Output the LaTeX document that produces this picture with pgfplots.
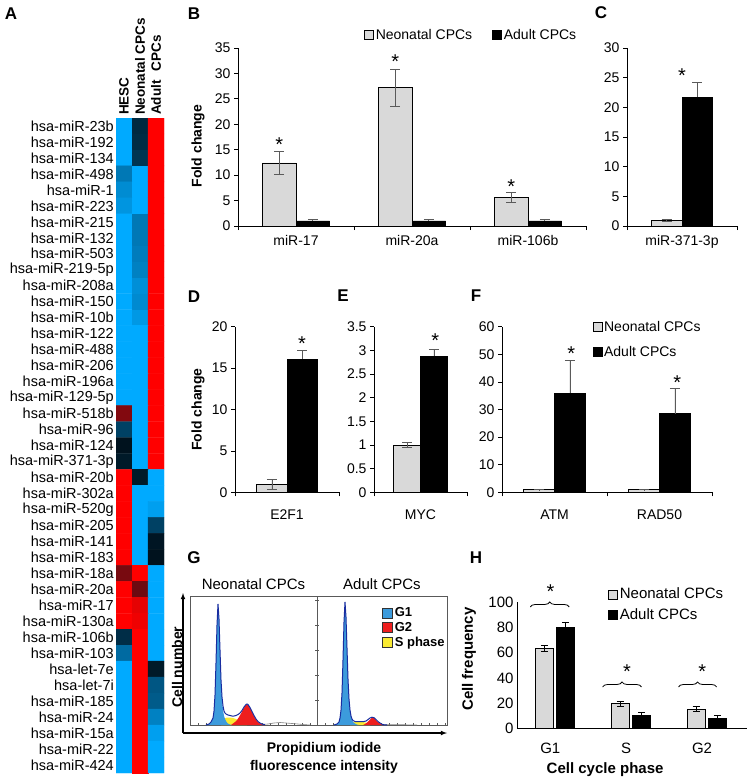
\documentclass[border=0pt]{standalone}
\usepackage{pgfplots}
\pgfplotsset{compat=1.18}
\usepackage{fontspec}
\setmainfont{Liberation Sans}
\usetikzlibrary{decorations.pathreplacing}

\definecolor{neo}{RGB}{217,217,217}
\definecolor{errc}{RGB}{90,90,90}
\definecolor{gblue}{RGB}{60,155,220}
\definecolor{gdark}{RGB}{25,45,160}
\definecolor{gred}{RGB}{238,30,30}
\definecolor{gyel}{RGB}{250,235,50}

\newcommand{\fA}{\fontsize{14}{16}\selectfont}
\newcommand{\fH}{\fontsize{15}{17}\selectfont}
\newcommand{\fP}{\fontsize{17}{19}\selectfont\bfseries}
\newcommand{\fS}{\fontsize{20}{20}\selectfont}

\tikzset{astar/.style={anchor=base, yshift=-11.8pt, font=\fS}}

\pgfplotsset{
  every axis/.append style={font=\fA, /pgf/number format/assume math mode=true},
  barax/.style={scale only axis, anchor=south west, ybar, ymin=0,
    axis x line*=bottom, axis y line*=left, axis line style={line width=0.8pt},
    tick align=outside, major tick length=4pt, tick style={line width=0.8pt, black},
    xticklabels={}, extra x tick style={major tick length=0pt, xticklabel style={yshift=-6pt}},
    clip=false,
    legend image code/.code={\draw[#1, line width=0.6pt] (0pt,-4.5pt) rectangle (9pt,4.5pt);}},
  neobar/.style={fill=neo, draw=black, line width=0.8pt,
    error bars/y dir=both, error bars/y explicit,
    error bars/error bar style={line width=0.8pt, errc},
    error bars/error mark options={rotate=90, mark size=5pt, line width=0.8pt, errc}},
  adubar/.style={fill=black, draw=black, line width=0.8pt,
    error bars/y dir=plus, error bars/y explicit,
    error bars/error bar style={line width=0.8pt, errc},
    error bars/error mark options={rotate=90, mark size=5pt, line width=0.8pt, errc}},
}

\begin{document}
\begin{tikzpicture}
\path[use as bounding box] (0,0) rectangle (749pt,-783pt);

% ---------------- Panel A: heatmap ----------------
\begin{axis}[scale only axis, anchor=north west, at={(116pt,-118pt)},
  width=48pt, height=655pt, xmin=-0.5, xmax=2.5, ymin=-0.5, ymax=40.5,
  y dir=reverse, axis line style={draw=none}, major tick length=0pt,
  xtick={0,1,2}, xticklabels={HESC,Neonatal CPCs,Adult\hspace{9pt}CPCs},
  xticklabel pos=right,
  xticklabel style={rotate=90, anchor=west, inner xsep=3pt, inner ysep=0pt,
    font=\fontsize{13.5}{14}\selectfont\bfseries},
  ytick={0,...,40},
  yticklabels={hsa-miR-23b,hsa-miR-192,hsa-miR-134,hsa-miR-498,hsa-miR-1,hsa-miR-223,hsa-miR-215,hsa-miR-132,hsa-miR-503,hsa-miR-219-5p,hsa-miR-208a,hsa-miR-150,hsa-miR-10b,hsa-miR-122,hsa-miR-488,hsa-miR-206,hsa-miR-196a,hsa-miR-129-5p,hsa-miR-518b,hsa-miR-96,hsa-miR-124,hsa-miR-371-3p,hsa-miR-20b,hsa-miR-302a,hsa-miR-520g,hsa-miR-205,hsa-miR-141,hsa-miR-183,hsa-miR-18a,hsa-miR-20a,hsa-miR-17,hsa-miR-130a,hsa-miR-106b,hsa-miR-103,hsa-let-7e,hsa-let-7i,hsa-miR-185,hsa-miR-24,hsa-miR-15a,hsa-miR-22,hsa-miR-424},
  yticklabel style={anchor=east, inner sep=0pt, xshift=-2pt, font=\fontsize{14.5}{15}\selectfont},
  colormap={hm}{rgb255=(0,170,255) rgb255=(0,18,30) rgb255=(255,0,0)},
  point meta min=-1, point meta max=1]
\addplot[matrix plot*, mesh/cols=3, point meta=explicit] table[meta=c] {
x y c
0 0 -1
1 0 -0.15
2 0 1
0 1 -1
1 1 -0.17
2 1 1
0 2 -1
1 2 -0.23
2 2 1
0 3 -0.67
1 3 -1
2 3 1
0 4 -0.8
1 4 -1
2 4 1
0 5 -0.86
1 5 -1
2 5 1
0 6 -1
1 6 -0.67
2 6 1
0 7 -1
1 7 -0.67
2 7 1
0 8 -1
1 8 -0.7
2 8 1
0 9 -1
1 9 -0.73
2 9 1
0 10 -1
1 10 -0.82
2 10 1
0 11 -1
1 11 -0.79
2 11 1
0 12 -1
1 12 -0.88
2 12 1
0 13 -1
1 13 -1
2 13 1
0 14 -1
1 14 -1
2 14 1
0 15 -1
1 15 -1
2 15 1
0 16 -1
1 16 -1
2 16 1
0 17 -1
1 17 -1
2 17 1
0 18 0.51
1 18 -1
2 18 1
0 19 -0.31
1 19 -1
2 19 1
0 20 0
1 20 -1
2 20 1
0 21 -0.05
1 21 -1
2 21 1
0 22 1
1 22 -0.05
2 22 -1
0 23 1
1 23 -1
2 23 -1
0 24 1
1 24 -1
2 24 -0.93
0 25 1
1 25 -1
2 25 -0.31
0 26 1
1 26 -1
2 26 -0.02
0 27 1
1 27 -1
2 27 0
0 28 0.47
1 28 1
2 28 -1
0 29 1
1 29 0.43
2 29 -1
0 30 1
1 30 0.9
2 30 -1
0 31 1
1 31 0.94
2 31 -1
0 32 -0.18
1 32 1
2 32 -1
0 33 -0.58
1 33 1
2 33 -1
0 34 -1
1 34 1
2 34 -0.05
0 35 -1
1 35 1
2 35 -0.45
0 36 -1
1 36 1
2 36 -0.48
0 37 -1
1 37 1
2 37 -0.73
0 38 -1
1 38 1
2 38 -0.93
0 39 -1
1 39 1
2 39 -1
0 40 -1
1 40 1
2 40 -1
};
\end{axis}

% ---------------- Panel B ----------------
\begin{axis}[barax, at={(238pt,-226pt)}, width=348pt, height=178pt,
  xmin=-0.5, xmax=2.5, ymax=35, ytick={0,5,...,35}, bar width=0.29,
  xtick={-0.5,0.5,1.5,2.5}, extra x ticks={0,1,2},
  extra x tick labels={miR-17,miR-20a,miR-106b},
  ylabel={\bfseries Fold change},
  ylabel style={at={(axis description cs:-0.115,0.45)}, anchor=center},
  legend style={at={(0.362,1.073)}, anchor=west, draw=none, fill=none,
    inner sep=0pt, legend columns=2,
    /tikz/every even column/.append style={column sep=18pt}}]
\addplot[neobar, bar shift=-0.145] table[x=x, y=y, y error=e] {
x y e
0 12.4 2.2
1 27.2 3.6
2 5.6 1.0
};
\addlegendentry{Neonatal CPCs}
\addplot[adubar, bar shift=0.145] table[x=x, y=y, y error=e] {
x y e
0 1.0 0.3
1 1.0 0.3
2 1.0 0.35
};
\addlegendentry{Adult CPCs}
\node[astar] at (axis cs:-0.145,16.9) {*};
\node[astar] at (axis cs:0.855,33.2) {*};
\node[astar] at (axis cs:1.855,8.7) {*};
\end{axis}

% ---------------- Panel C ----------------
\begin{axis}[barax, at={(627pt,-226pt)}, width=110pt, height=178pt,
  xmin=-0.5, xmax=0.5, ymax=30, ytick={0,5,...,30}, bar width=0.28,
  xtick={-0.5,0.5}, extra x ticks={0}, extra x tick labels={miR-371-3p}]
\addplot[neobar, bar shift=-0.14] table[x=x, y=y, y error=e] {
x y e
0 1.0 0.15
};
\addplot[adubar, bar shift=0.14] table[x=x, y=y, y error=e] {
x y e
0 21.7 2.5
};
\node[astar] at (axis cs:0,26.1) {*};
\end{axis}

% ---------------- Panel D ----------------
\begin{axis}[barax, at={(235pt,-492.3pt)}, width=104pt, height=165.6pt,
  xmin=-0.5, xmax=0.5, ymax=20, ytick={0,5,...,20}, bar width=0.29,
  xtick={-0.5,0.5}, extra x ticks={0}, extra x tick labels={E2F1},
  extra x tick style={major tick length=0pt, xticklabel style={yshift=-8pt}},
  ylabel={\bfseries Fold change},
  ylabel style={at={(axis description cs:-0.356,0.5)}, anchor=center}]
\addplot[neobar, bar shift=-0.145] table[x=x, y=y, y error=e] {
x y e
0 1.0 0.6
};
\addplot[adubar, bar shift=0.145] table[x=x, y=y, y error=e] {
x y e
0 16.1 1.0
};
\node[astar] at (axis cs:0.145,18.5) {*};
\end{axis}

% ---------------- Panel E ----------------
\begin{axis}[barax, at={(374pt,-492.3pt)}, width=93pt, height=165.6pt,
  xmin=-0.5, xmax=0.5, ymax=3.5, ytick={0,0.5,...,3.5}, bar width=0.29,
  xtick={-0.5,0.5}, extra x ticks={0}, extra x tick labels={MYC},
  extra x tick style={major tick length=0pt, xticklabel style={yshift=-8pt}}]
\addplot[neobar, bar shift=-0.145] table[x=x, y=y, y error=e] {
x y e
0 1.0 0.05
};
\addplot[adubar, bar shift=0.145] table[x=x, y=y, y error=e] {
x y e
0 2.88 0.14
};
\node[astar] at (axis cs:0.16,3.31) {*};
\end{axis}

% ---------------- Panel F ----------------
\begin{axis}[barax, at={(502pt,-492.3pt)}, width=210pt, height=165.6pt,
  xmin=-0.5, xmax=1.5, ymax=60, ytick={0,10,...,60}, bar width=0.295,
  xtick={-0.5,0.5,1.5}, extra x ticks={0,1}, extra x tick labels={ATM,RAD50},
  extra x tick style={major tick length=0pt, xticklabel style={yshift=-8pt}},
  legend style={at={(0.43,1.045)}, anchor=north west, draw=none, fill=none,
    inner sep=0pt, row sep=9pt}, legend cell align=left]
\addplot[neobar, bar shift=-0.1475] table[x=x, y=y, y error=e] {
x y e
0 1.0 0.1
1 1.0 0.1
};
\addlegendentry{Neonatal CPCs}
\addplot[adubar, bar shift=0.1475] table[x=x, y=y, y error=e] {
x y e
0 35.9 12.0
1 28.5 9.2
};
\addlegendentry{Adult CPCs}
\node[astar] at (axis cs:0.16,52.2) {*};
\node[astar] at (axis cs:1.17,41.7) {*};
\end{axis}

% ---------------- Panel G ----------------
\begin{axis}[scale only axis, anchor=south west, at={(183pt,-733pt)},
  width=264pt, height=140pt, xmin=0, xmax=1, ymin=0, ymax=1,
  axis lines=left, axis line style={-latex, line width=1.1pt},
  xtick=\empty, ytick=\empty,
  ylabel={\bfseries Cell number},
  ylabel style={at={(axis description cs:-0.022,0.47)}, anchor=center},
  xlabel={\bfseries Propidium iodide\\\bfseries fluorescence intensity},
  xlabel style={at={(axis description cs:0.534,-0.18)}, anchor=center, align=center,
    font=\fontsize{14}{18}\selectfont}]
\addplot[draw=none] coordinates {(0,0)};
\end{axis}

\begin{axis}[scale only axis, anchor=south west, at={(190pt,-725pt)},
  width=127pt, height=129pt, xmin=0, xmax=127, ymin=0, ymax=129,
  axis line style={gray!70!black, line width=0.6pt},
  xtick={8,16,...,120}, ytick={25,50,75,100,125},
  xticklabels={}, yticklabels={}, xtick pos=bottom, ytick pos=right,
  tick align=inside, major tick length=2pt, tick style={gray!70!black, line width=0.5pt},
  title={Neonatal CPCs}, title style={at={(0.5,1)}, anchor=south, yshift=-3pt, font=\fH}]
\addplot[fill=gyel, draw=none] coordinates {(31,0)(32,4)(34,6.5)(37,7.5)(40,7.5)(43,7)(46,6)(49,4.5)(52,2.5)(55,1)(57,0)} \closedcycle;
\addplot[fill=gblue, draw=none] coordinates {(16,0)(19,1)(21,3)(23,7)(24,14)(25,30)(26,62)(27,100)(28,121)(29,106)(30,75)(31,45)(32,26)(33,15)(34,9)(35,6)(36,4)(37,2.5)(38,1.5)(40,0.5)(42,0)} \closedcycle;
\addplot[fill=gred, draw=none] coordinates {(41,0)(43,1.5)(45,3)(47,5)(49,8)(51,11.5)(53,15.5)(55,19)(56.7,20.7)(58,20)(60,17)(62,13)(64,9)(66,5.5)(68,3)(70,1.5)(72,0.7)(75,0)} \closedcycle;
\addplot[gray, line width=0.6pt] coordinates {(72,0.6)(78,1)(84,2)(90,2.5)(96,2)(102,1.5)(108,1)(114,0.4)(120,0)};
\addplot[gdark, line width=1pt] coordinates {(16,0)(19,1)(21,3)(23,7)(24,14)(25,30)(26,62)(27,100)(28,121)(29,106)(30,75)(31,45)(32,28)(33,19)(34,14)(35,12)(36,11)(38,10)(40,9.5)(42,9)(44,9)(46,9.5)(48,10.5)(50,12)(52,14.5)(54,18)(56,20.5)(57,21)(58,20.5)(60,17.5)(62,13.5)(64,9.5)(66,6)(68,3.5)(70,2)(72,1)(75,0.3)};
\end{axis}

\begin{axis}[scale only axis, anchor=south west, at={(317pt,-725pt)},
  width=130pt, height=129pt, xmin=0, xmax=130, ymin=0, ymax=129,
  axis line style={gray!70!black, line width=0.6pt},
  xtick={8,16,...,128}, ytick={25,50,75,100,125},
  xticklabels={}, yticklabels={}, xtick pos=bottom, ytick pos=left,
  tick align=inside, major tick length=2pt, tick style={gray!70!black, line width=0.5pt},
  title={Adult CPCs}, title style={at={(0.5,1)}, anchor=south, yshift=-3pt, font=\fH},
  legend style={at={(0.5,0.925)}, anchor=north west, draw=none, fill=none,
    inner sep=0pt, row sep=0pt, font=\fontsize{13}{15}\selectfont\bfseries},
  legend cell align=left,
  legend image code/.code={\draw[#1, draw=black!80, line width=0.6pt] (0pt,-5pt) rectangle (10pt,5pt);}]
\addlegendimage{fill=gblue}
\addlegendentry{G1}
\addlegendimage{fill=gred}
\addlegendentry{G2}
\addlegendimage{fill=gyel}
\addlegendentry{S phase}
\addplot[fill=gyel, draw=none, forget plot] coordinates {(33,0)(34,2)(37,3)(41,3.2)(45,3)(48,2.6)(51,1.5)(53,0)} \closedcycle;
\addplot[fill=gblue, draw=none, forget plot] coordinates {(17,0)(20,1)(22,3)(23,7)(24,15)(25,32)(26,65)(27,103)(28,123)(29,108)(30,77)(31,46)(32,26)(33,14)(34,8)(35,5)(36,3)(38,1.5)(40,0.5)(42,0)} \closedcycle;
\addplot[fill=gred, draw=none, forget plot] coordinates {(46,0)(48,1)(50,2.5)(52,4.5)(54,6.5)(55.3,7.3)(57,6.8)(59,5)(61,3)(63,1.5)(65,0.5)(66,0)} \closedcycle;
\addplot[gray, line width=0.6pt, forget plot] coordinates {(67,0.3)(80,0.3)(90,0.2)(100,0)};
\addplot[gdark, line width=1pt, forget plot] coordinates {(17,0)(20,1)(22,3)(23,7)(24,15)(25,32)(26,65)(27,103)(28,123)(29,108)(30,77)(31,46)(32,26)(33,15)(34,9)(35,6)(36,4.5)(38,3.5)(41,3.3)(44,3.3)(47,3.5)(49,4)(51,5.5)(53,7)(55,7.8)(57,7.3)(59,5.5)(61,3.5)(63,2)(65,0.8)(67,0.2)(70,0)};
\end{axis}

% ---------------- Panel H ----------------
\begin{axis}[barax, at={(517pt,-728.3pt)}, width=230pt, height=126pt,
  font=\fH, xmin=-0.5, xmax=2.53, ymax=100, ytick={0,20,...,100}, bar width=0.235,
  major tick length=0pt, xtick=\empty, extra x ticks={0,1,2},
  extra x tick labels={G1,S,G2},
  extra x tick style={major tick length=0pt, xticklabel style={xshift=-4.7pt, yshift=-5pt}},
  ylabel={\bfseries Cell frequency},
  ylabel style={at={(axis description cs:-0.209,0.55)}, anchor=center},
  xlabel={\bfseries Cell cycle phase},
  xlabel style={at={(axis description cs:0.383,-0.331)}, anchor=center},
  legend style={at={(0.396,1.13)}, anchor=north west, draw=none, fill=none,
    inner sep=0pt, row sep=4pt}, legend cell align=left]
\addplot[neobar, bar shift=-0.14, error bars/error mark options={rotate=90, mark size=3.5pt, line width=0.8pt, black}, error bars/error bar style={line width=0.8pt, black}] table[x=x, y=y, y error=e] {
x y e
0 63.5 2.5
1 19.5 1.8
2 15.3 1.8
};
\addlegendentry{Neonatal CPCs}
\addplot[adubar, bar shift=0.14, error bars/y dir=both, error bars/error mark options={rotate=90, mark size=3.5pt, line width=0.8pt, black}, error bars/error bar style={line width=0.8pt, black}] table[x=x, y=y, y error=e] {
x y e
0 79.8 4.5
1 10.0 2.7
2 7.9 2.6
};
\addlegendentry{Adult CPCs}
\draw[decorate, decoration={brace, amplitude=5pt}, line width=0.8pt] (axis cs:-0.325,96.3) -- (axis cs:0.188,96.3);
\draw[decorate, decoration={brace, amplitude=5pt}, line width=0.8pt] (axis cs:0.628,32.8) -- (axis cs:1.14,32.8);
\draw[decorate, decoration={brace, amplitude=5pt}, line width=0.8pt] (axis cs:1.628,32.8) -- (axis cs:2.13,32.8);
\node[astar] at (axis cs:-0.06,112) {*};
\node[astar] at (axis cs:0.95,48.6) {*};
\node[astar] at (axis cs:1.94,48.6) {*};
\end{axis}

% ---------------- Panel letters ----------------
\node[font=\fP] at (11pt,-14pt) {A};
\node[font=\fP] at (194pt,-14pt) {B};
\node[font=\fP] at (601pt,-13pt) {C};
\node[font=\fP] at (194pt,-297pt) {D};
\node[font=\fP] at (343pt,-296pt) {E};
\node[font=\fP] at (476pt,-296pt) {F};
\node[font=\fP] at (194pt,-558pt) {G};
\node[font=\fP] at (476pt,-558pt) {H};
\end{tikzpicture}
\end{document}
